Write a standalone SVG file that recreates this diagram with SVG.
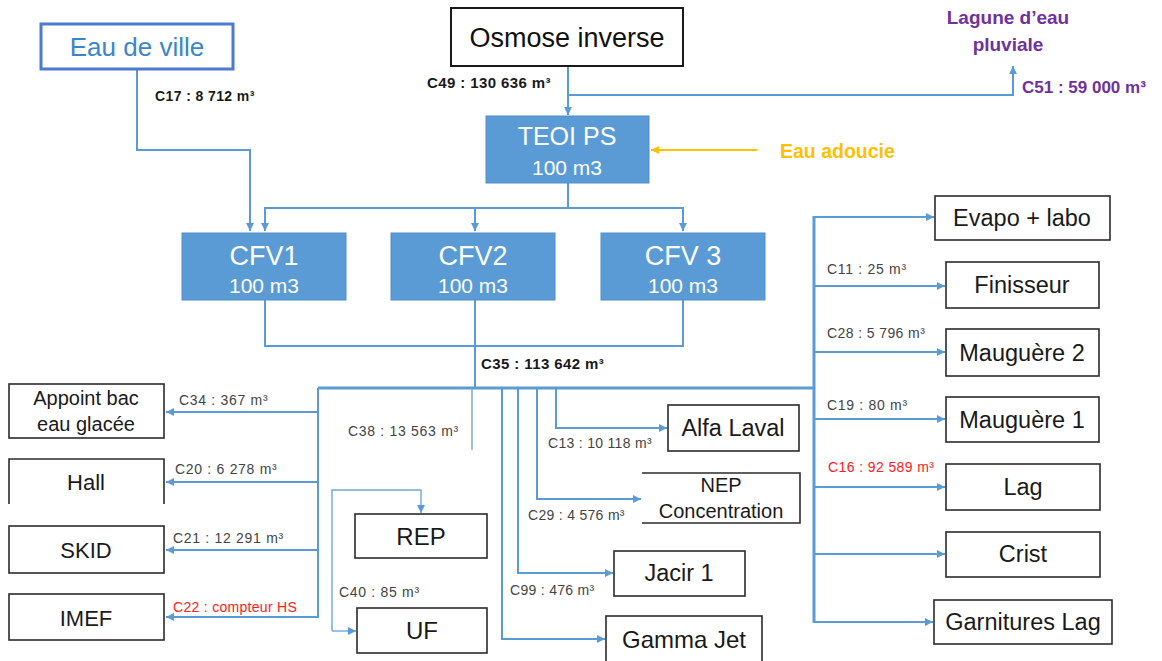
<svg xmlns="http://www.w3.org/2000/svg" width="1162" height="661" viewBox="0 0 1162 661">
  <style>
    text { font-family: "Liberation Sans", Arial, sans-serif; }
    .box { fill: #ffffff; stroke: #2b2b2b; stroke-width: 1.6; }
    .tank { fill: #5b9bd5; stroke: #4f8fc9; stroke-width: 1; }
    .bt { font-size: 23.5px; fill: #1a1a1a; text-anchor: middle; }
    .tt { fill: #ffffff; text-anchor: middle; }
    .pipe { fill: none; stroke: #5b9bd5; stroke-width: 2; }
    .bus { fill: none; stroke: #5b9bd5; stroke-width: 3; }
    .thin { fill: none; stroke: #6fa6da; stroke-width: 1.4; }
    .lbl { font-size: 14px; fill: #444444; letter-spacing: 0.7px; }
    .lblb { font-size: 15px; font-weight: bold; fill: #1a1a1a; letter-spacing: 0.4px; }
    .red { fill: #ff2020; }
  </style>
  <defs>
    <marker id="arr" viewBox="0 0 8 8" refX="8" refY="4" markerWidth="8" markerHeight="8" markerUnits="userSpaceOnUse" orient="auto">
      <path d="M0,0 L8,4 L0,8 z" fill="#5b9bd5"/>
    </marker>
    <marker id="arrO" viewBox="0 0 8 8" refX="8" refY="4" markerWidth="8" markerHeight="8" markerUnits="userSpaceOnUse" orient="auto">
      <path d="M0,0 L8,4 L0,8 z" fill="#ffc000"/>
    </marker>
  </defs>

  <rect width="1162" height="661" fill="#ffffff"/>

  <!-- connectors -->
  <g id="connectors">
    <!-- city water to CFV1 -->
    <path class="pipe" d="M137,69 V150 H250 V231" marker-end="url(#arr)"/>
    <!-- reverse osmosis to TEOI PS and rainwater lagoon -->
    <path class="pipe" d="M568,66 V115" marker-end="url(#arr)"/>
    <path class="pipe" d="M568,95 H1013 V66" marker-end="url(#arr)"/>
    <!-- softened water -->
    <path fill="none" stroke="#ffc000" stroke-width="2" d="M757,150 H651" marker-end="url(#arrO)"/>
    <!-- TEOI PS to CFV tanks -->
    <path class="pipe" d="M568,183 V208"/>
    <path class="pipe" d="M265,231 V208 H683 V231" marker-end="url(#arr)"/>
    <path class="pipe" d="M265,208 V231" marker-end="url(#arr)"/>
    <path class="pipe" d="M475,208 V231" marker-end="url(#arr)"/>
    <!-- CFV outlets -->
    <path class="pipe" d="M265,300 V346 H683 V300"/>
    <path class="pipe" d="M475,300 V388"/>
    <!-- main distribution bus -->
    <path class="bus" d="M318,388 H814"/>
    <path class="pipe" d="M318,388 V618"/>
    <path class="bus" d="M814,216 V623"/>
    <!-- left consumers -->
    <path class="pipe" d="M318,412 H166" marker-end="url(#arr)"/>
    <path class="pipe" d="M318,482 H166" marker-end="url(#arr)"/>
    <path class="pipe" d="M318,550 H166" marker-end="url(#arr)"/>
    <path class="pipe" d="M318,617 H166" marker-end="url(#arr)"/>
    <!-- C38 branch -->
    <path class="thin" d="M472,388 V450"/>
    <!-- centre consumers -->
    <path class="pipe" d="M556,388 V428 H667" marker-end="url(#arr)"/>
    <path class="pipe" d="M537,388 V499 H641" marker-end="url(#arr)"/>
    <path class="pipe" d="M518,388 V573 H613" marker-end="url(#arr)"/>
    <path class="pipe" d="M502,388 V639 H605" marker-end="url(#arr)"/>
    <!-- REP / UF loop -->
    <path class="thin" d="M332,631 V490 H421 V513" marker-end="url(#arr)"/>
    <path class="thin" d="M332,631 H356" marker-end="url(#arr)"/>
    <!-- right consumers -->
    <path class="pipe" d="M814,217 H934" marker-end="url(#arr)"/>
    <path class="pipe" d="M814,286 H945" marker-end="url(#arr)"/>
    <path class="pipe" d="M814,352 H945" marker-end="url(#arr)"/>
    <path class="pipe" d="M814,419 H945" marker-end="url(#arr)"/>
    <path class="pipe" d="M814,487 H945" marker-end="url(#arr)"/>
    <path class="pipe" d="M814,554 H945" marker-end="url(#arr)"/>
    <path class="pipe" d="M814,622 H933" marker-end="url(#arr)"/>
  </g>

  <!-- flow meter labels -->
  <g id="labels">
    <text class="lblb" x="155" y="101" style="font-size:14px">C17 : 8 712 m³</text>
    <text class="lblb" x="427" y="88">C49 : 130 636 m³</text>
    <text class="lblb" x="481" y="369">C35 : 113 642 m³</text>
    <text class="lblb" x="1022" y="93" style="font-size:17px;fill:#7030a0;letter-spacing:0">C51 : 59 000 m³</text>
    <text x="780" y="158" style="font-size:19.5px;font-weight:bold;fill:#ffc000">Eau adoucie</text>
    <text class="lbl" x="179" y="405">C34 :  367 m³</text>
    <text class="lbl" x="175" y="474">C20 :  6 278 m³</text>
    <text class="lbl" x="173" y="543">C21 :  12 291 m³</text>
    <text class="lbl red" x="173" y="612" style="letter-spacing:0.3px">C22 : compteur HS</text>
    <text class="lbl" x="348" y="436">C38 : 13 563  m³</text>
    <text class="lbl" x="548" y="448" style="letter-spacing:0.3px">C13 : 10 118 m³</text>
    <text class="lbl" x="528" y="520" style="letter-spacing:0.3px">C29 :  4 576 m³</text>
    <text class="lbl" x="510" y="595" style="letter-spacing:0.3px">C99 :  476 m³</text>
    <text class="lbl" x="339" y="597">C40 :  85 m³</text>
    <text class="lbl" x="827" y="274">C11 :  25 m³</text>
    <text class="lbl" x="827" y="338" style="letter-spacing:0.4px">C28 :  5 796 m³</text>
    <text class="lbl" x="827" y="410">C19 :  80 m³</text>
    <text class="lbl red" x="828" y="472" style="letter-spacing:0.4px">C16 : 92 589  m³</text>
  </g>

  <!-- sources -->
  <g id="eau-de-ville">
    <rect x="41" y="24" width="192" height="45" fill="#ffffff" stroke="#4a7bd0" stroke-width="3"/>
    <text x="137" y="56" style="font-size:26px;fill:#3a86c8;text-anchor:middle">Eau de ville</text>
  </g>
  <g id="osmose-inverse">
    <rect x="451" y="8" width="232" height="58" fill="#ffffff" stroke="#1a1a1a" stroke-width="2"/>
    <text x="567" y="47" style="font-size:27px;fill:#111111;text-anchor:middle">Osmose inverse</text>
  </g>
  <g id="lagune">
    <text x="1008" y="24" style="font-size:19px;font-weight:bold;fill:#7030a0;text-anchor:middle">Lagune d’eau</text>
    <text x="1008" y="51" style="font-size:19px;font-weight:bold;fill:#7030a0;text-anchor:middle">pluviale</text>
  </g>

  <!-- tanks -->
  <g id="teoi-ps">
    <rect class="tank" x="486" y="116" width="163" height="67"/>
    <text class="tt" x="567" y="145" style="font-size:25px">TEOI PS</text>
    <text class="tt" x="567" y="175" style="font-size:21px">100 m3</text>
  </g>
  <g id="cfv1">
    <rect class="tank" x="182" y="233" width="164" height="67"/>
    <text class="tt" x="264" y="265" style="font-size:27px">CFV1</text>
    <text class="tt" x="264" y="293" style="font-size:21px">100 m3</text>
  </g>
  <g id="cfv2">
    <rect class="tank" x="391" y="233" width="164" height="67"/>
    <text class="tt" x="473" y="265" style="font-size:27px">CFV2</text>
    <text class="tt" x="473" y="293" style="font-size:21px">100 m3</text>
  </g>
  <g id="cfv3">
    <rect class="tank" x="601" y="233" width="164" height="67"/>
    <text class="tt" x="683" y="265" style="font-size:27px">CFV 3</text>
    <text class="tt" x="683" y="293" style="font-size:21px">100 m3</text>
  </g>

  <!-- left consumers -->
  <g id="appoint-bac">
    <rect class="box" x="9" y="384" width="155" height="54"/>
    <text class="bt" x="86" y="405" style="font-size:20px">Appoint bac</text>
    <text class="bt" x="86" y="431" style="font-size:20px">eau glacée</text>
  </g>
  <g id="hall">
    <path d="M9,504 V459 H164 V504" fill="none" stroke="#2b2b2b" stroke-width="1.6"/>
    <text class="bt" x="86" y="490" style="font-size:22px">Hall</text>
  </g>
  <g id="skid">
    <rect class="box" x="9" y="526" width="155" height="47"/>
    <text class="bt" x="86" y="558" style="font-size:22px">SKID</text>
  </g>
  <g id="imef">
    <rect class="box" x="9" y="594" width="155" height="46"/>
    <text class="bt" x="86" y="626" style="font-size:22px">IMEF</text>
  </g>

  <!-- centre consumers -->
  <g id="rep">
    <rect class="box" x="355" y="514" width="132" height="44"/>
    <text class="bt" x="421" y="545" style="font-size:24px">REP</text>
  </g>
  <g id="uf">
    <rect class="box" x="357" y="608" width="130" height="45"/>
    <text class="bt" x="422" y="639" style="font-size:24px">UF</text>
  </g>
  <g id="alfa-laval">
    <rect class="box" x="668" y="405" width="131" height="46"/>
    <text class="bt" x="733" y="436">Alfa Laval</text>
  </g>
  <g id="nep-concentration">
    <path d="M642,473 H800 V523 H642" fill="none" stroke="#2b2b2b" stroke-width="1.6"/>
    <text class="bt" x="721" y="492" style="font-size:20px">NEP</text>
    <text class="bt" x="721" y="518" style="font-size:20px">Concentration</text>
  </g>
  <g id="jacir-1">
    <rect class="box" x="614" y="551" width="131" height="45"/>
    <text class="bt" x="679" y="581">Jacir 1</text>
  </g>
  <g id="gamma-jet">
    <rect class="box" x="606" y="616" width="156" height="46"/>
    <text class="bt" x="684" y="648" style="font-size:24px">Gamma Jet</text>
  </g>

  <!-- right consumers -->
  <g id="evapo-labo">
    <rect class="box" x="935" y="196" width="175" height="44"/>
    <text class="bt" x="1022" y="226">Evapo + labo</text>
  </g>
  <g id="finisseur">
    <rect class="box" x="946" y="262" width="153" height="46"/>
    <text class="bt" x="1022" y="293">Finisseur</text>
  </g>
  <g id="maugere-2">
    <rect class="box" x="946" y="329" width="153" height="47"/>
    <text class="bt" x="1022" y="361">Mauguère 2</text>
  </g>
  <g id="maugere-1">
    <rect class="box" x="946" y="397" width="153" height="45"/>
    <text class="bt" x="1022" y="428">Mauguère 1</text>
  </g>
  <g id="lag">
    <rect class="box" x="946" y="464" width="154" height="46"/>
    <text class="bt" x="1023" y="495">Lag</text>
  </g>
  <g id="crist">
    <rect class="box" x="946" y="532" width="154" height="45"/>
    <text class="bt" x="1023" y="562">Crist</text>
  </g>
  <g id="garnitures-lag">
    <rect class="box" x="934" y="600" width="178" height="44"/>
    <text class="bt" x="1023" y="630" style="font-size:23.5px">Garnitures Lag</text>
  </g>
</svg>
